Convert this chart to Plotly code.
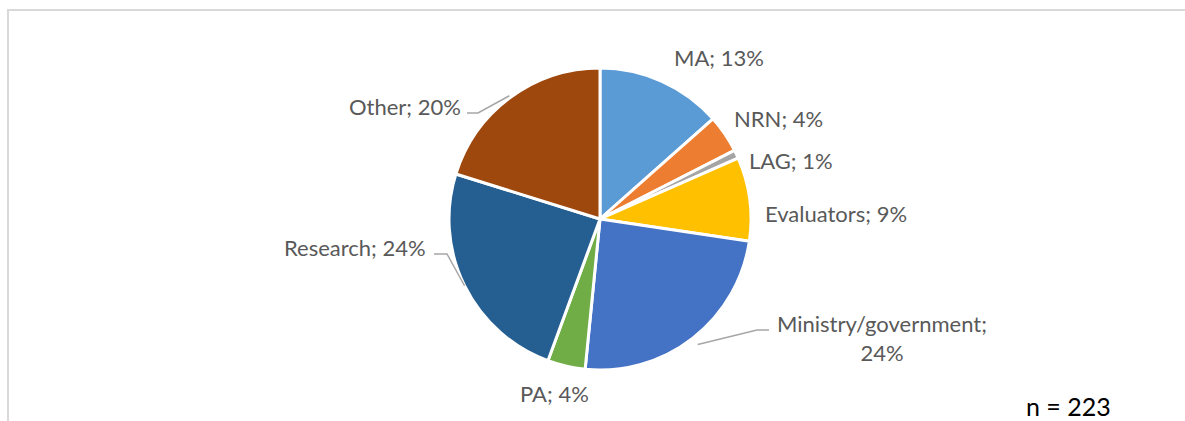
import math
import plotly.graph_objects as go

# ---- data ----
categories = ["MA", "NRN", "LAG", "Evaluators", "Ministry/government", "PA", "Research", "Other"]
counts = [30, 9, 2, 20, 54, 9, 54, 45]
n_total = 223
colors = ["#5B9BD5", "#ED7D31", "#A5A5A5", "#FFC000", "#4472C4", "#70AD47", "#255E91", "#9E480E"]

# ---- layout / style (pixels) ----
W, H = 1185, 421
CX, CY, R = 600, 219, 151
FONT = "Lato"
FONT_SIZE = 22
LABEL_COLOR = "#595959"
LINE_COLOR = "#A6A6A6"

# label anchor (x, y, xanchor) and optional leader (elbow, end)
label_style = {
    "MA": dict(x=672, y=57, xanchor="left"),
    "NRN": dict(x=732, y=118, xanchor="left"),
    "LAG": dict(x=747, y=161, xanchor="left"),
    "Evaluators": dict(x=763, y=213, xanchor="left"),
    "Ministry/government": dict(x=882, y=338, xanchor="center", br=True,
                                leader=[(757, 330), (769, 330)], r_off=8),
    "PA": dict(x=554, y=393, xanchor="center"),
    "Research": dict(x=428, y=248, xanchor="right",
                     leader=[(447, 254), (434, 254)], r_off=0),
    "Other": dict(x=463, y=107, xanchor="right",
                  leader=[(478, 113), (467, 113)], r_off=2),
}


def px(x):
    return x / W


def py(y):
    return 1 - y / H


fig = go.Figure(go.Pie(
    labels=categories,
    values=counts,
    sort=False,
    direction="clockwise",
    rotation=0,
    marker=dict(colors=colors, line=dict(color="white", width=3)),
    textinfo="none",
    hoverinfo="label+percent",
    showlegend=False,
    domain=dict(x=[px(CX - R), px(CX + R)], y=[py(CY + R), py(CY - R)]),
))

total = sum(counts)
annotations = []
shapes = []
cum = 0
for cat, v in zip(categories, counts):
    pct = round(v / total * 100)
    mid = (cum + v / 2) / total * 2 * math.pi
    cum += v
    st = label_style[cat]
    sep = ";<br>" if st.get("br") else "; "
    text = f"{cat}{sep}{pct}%"
    annotations.append(dict(
        x=px(st["x"]), y=py(st["y"]), xref="paper", yref="paper",
        text=text, showarrow=False, xanchor=st["xanchor"], yanchor="middle",
        align="center", font=dict(family=FONT, size=FONT_SIZE, color=LABEL_COLOR),
    ))
    if "leader" in st:
        rr = R + st["r_off"]
        sx = CX + rr * math.sin(mid)
        sy = CY - rr * math.cos(mid)
        pts = [(sx, sy)] + st["leader"]
        path = "M " + " L ".join(f"{px(a)},{py(b)}" for a, b in pts)
        shapes.append(dict(type="path", xref="paper", yref="paper", path=path,
                           line=dict(color=LINE_COLOR, width=1.5)))

annotations.append(dict(
    x=px(1068), y=py(406), xref="paper", yref="paper", text=f"n = {n_total}",
    showarrow=False, xanchor="center", yanchor="middle",
    font=dict(family=FONT, size=25, color="#000000"),
))

# chart area outline (partially visible)
shapes.append(dict(type="rect", xref="paper", yref="paper",
                   x0=px(8), y0=py(440), x1=px(1200), y1=py(10),
                   line=dict(color="#D9D9D9", width=2), layer="below"))

fig.update_layout(
    width=W, height=H,
    margin=dict(l=0, r=0, t=0, b=0),
    paper_bgcolor="white", plot_bgcolor="white",
    annotations=annotations, shapes=shapes,
)

fig.write_html("out.html", config={"displayModeBar": False},
               post_script="document.body.style.margin='0';")
